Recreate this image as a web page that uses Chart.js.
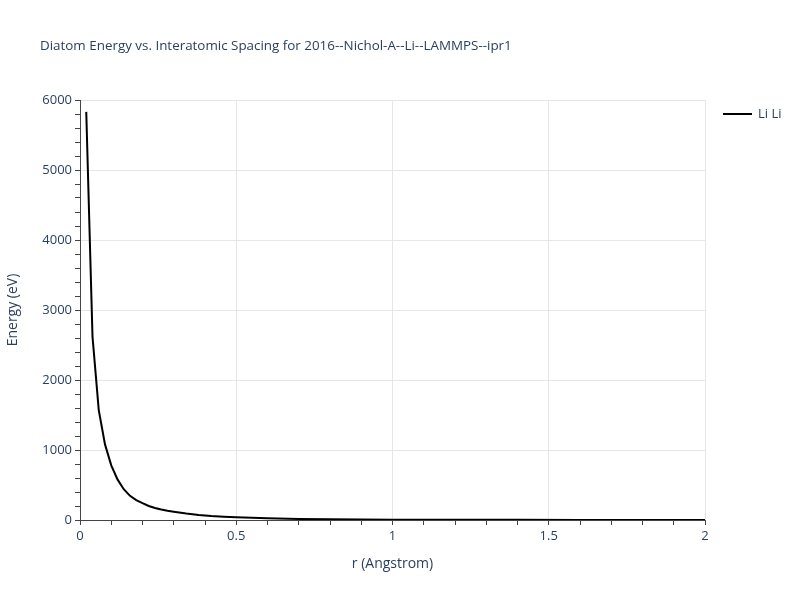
<!DOCTYPE html>
<html>
<head>
<meta charset="utf-8">
<script src="https://cdn.jsdelivr.net/npm/chart.js@4"></script>
<style>
  html, body { margin: 0; padding: 0; background: #fff; }
  #wrap { width: 800px; height: 600px; }
</style>
</head>
<body>
<div id="wrap"><canvas id="chart" width="800" height="600"></canvas></div>
<script>
// spacing (Angstrom) and diatom energy (eV)
const spacing = [0.02, 0.04, 0.06, 0.08, 0.10, 0.12, 0.14, 0.16, 0.18, 0.20,
    0.22, 0.24, 0.26, 0.28, 0.30, 0.34, 0.38, 0.42, 0.46, 0.50,
    0.60, 0.70, 0.80, 0.90, 1.00, 1.20, 1.40, 1.60, 1.80, 2.00];
const energy = [5830, 2620, 1570, 1080, 780, 580, 440, 345, 285, 240,
    200, 172, 150, 132, 118, 92, 73, 58, 47, 38,
    24, 15, 10, 7, 5, 3, 2, 1.2, 0.8, 0.5];

const seriesName = 'Li Li';
const titleText = 'Diatom Energy vs. Interatomic Spacing for 2016--Nichol-A--Li--LAMMPS--ipr1';
const xLabelEvery = 0.5;
const yLabelEvery = 1000;

const fontFamily = '"Open Sans", "Liberation Sans", sans-serif';
const textColor = '#2a3f5f';
const gridColor = '#e6e6e6';

const points = spacing.map((r, i) => ({x: r, y: energy[i]}));

function isMultiple(v, step) {
    const q = v / step;
    return Math.abs(q - Math.round(q)) < 1e-6;
}

// title and legend drawn by hand so the plot area stays where plotly put it
const decorations = {
    id: 'decorations',
    afterDraw(chart) {
        const ctx = chart.ctx;
        ctx.save();
        ctx.fillStyle = textColor;
        ctx.textBaseline = 'middle';
        ctx.font = '13.4px ' + fontFamily;
        ctx.fillText(titleText, 40, 46);

        // legend
        ctx.strokeStyle = '#000';
        ctx.lineWidth = 2;
        ctx.beginPath();
        ctx.moveTo(723, 114);
        ctx.lineTo(752, 114);
        ctx.stroke();
        ctx.font = '13px ' + fontFamily;
        ctx.fillText(seriesName, 758, 114);
        ctx.restore();
    }
};

const chart = new Chart(document.getElementById('chart'), {
    type: 'line',
    data: {
        datasets: [{
            label: seriesName,
            data: points,
            borderColor: '#000',
            borderWidth: 2,
            pointRadius: 0,
            fill: false,
            tension: 0
        }]
    },
    options: {
        responsive: false,
        animation: false,
        layout: {padding: {top: 100, right: 95, left: 0, bottom: 0}},
        plugins: {
            legend: {display: false},
            title: {display: false},
            tooltip: {enabled: false}
        },
        scales: {
            x: {
                type: 'linear',
                min: 0,
                max: 2,
                afterFit(scale) { scale.height = 80; },
                border: {color: '#444', width: 1},
                grid: {
                    color: ctx => (ctx.tick && isMultiple(ctx.tick.value, xLabelEvery) && ctx.tick.value !== 0) ? gridColor : 'rgba(0,0,0,0)',
                    tickColor: '#444',
                    tickLength: 5,
                    drawTicks: true
                },
                ticks: {
                    stepSize: 0.1,
                    autoSkip: false,
                    maxRotation: 0,
                    padding: 3,
                    color: textColor,
                    font: {family: fontFamily, size: 13},
                    callback: v => isMultiple(v, xLabelEvery) ? String(Math.round(v * 10) / 10) : ''
                },
                title: {
                    display: true,
                    text: 'r (Angstrom)',
                    color: textColor,
                    font: {family: fontFamily, size: 14},
                    padding: {top: 4, bottom: 28}
                }
            },
            y: {
                min: 0,
                max: 6000,
                afterFit(scale) { scale.width = 80; },
                border: {color: '#444', width: 1},
                grid: {
                    color: ctx => (ctx.tick && isMultiple(ctx.tick.value, yLabelEvery) && ctx.tick.value !== 0) ? gridColor : 'rgba(0,0,0,0)',
                    tickColor: '#444',
                    tickLength: 5,
                    drawTicks: true
                },
                ticks: {
                    stepSize: 200,
                    autoSkip: false,
                    padding: 3,
                    color: textColor,
                    font: {family: fontFamily, size: 13},
                    callback: v => isMultiple(v, yLabelEvery) ? String(v) : ''
                },
                title: {
                    display: true,
                    text: 'Energy (eV)',
                    color: textColor,
                    font: {family: fontFamily, size: 14},
                    padding: {top: 5, bottom: 0}
                }
            }
        }
    },
    plugins: [decorations]
});
</script>
</body>
</html>
